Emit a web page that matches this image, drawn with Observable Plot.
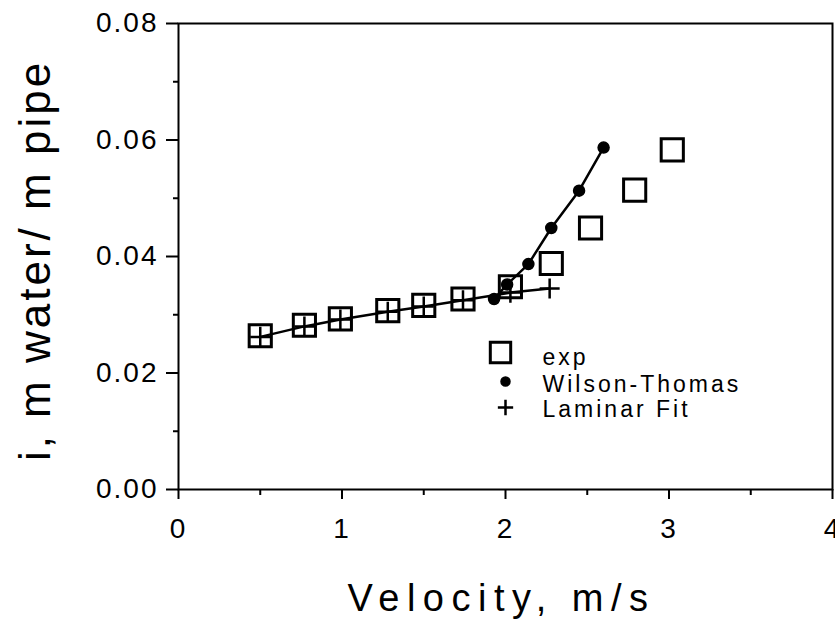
<!DOCTYPE html>
<html>
<head>
<meta charset="utf-8">
<script src="https://cdn.jsdelivr.net/npm/d3@7"></script>
<script src="https://cdn.jsdelivr.net/npm/@observablehq/plot@0.6"></script>
<style>
  html, body { margin: 0; padding: 0; background: #fff; }
  #chart svg { font-family: "Liberation Sans", Arial, sans-serif; }
  g[aria-label="y-axis tick label"] text, g[aria-label="x-axis tick label"] text { letter-spacing: 2px; }
  g[font-size="38"] text { letter-spacing: 7.5px; }
  g[font-size="44"] text { letter-spacing: 3px; }
  g[font-size="23"] text { letter-spacing: 3px; }
</style>
</head>
<body>
<div id="chart"></div>
<script>
// Experimental data (squares)
const expV = [0.50, 0.77, 0.99, 1.28, 1.50, 1.74, 2.03, 2.28, 2.52, 2.79, 3.02];
const expI = [0.0264, 0.0282, 0.0293, 0.0307, 0.0316, 0.0327, 0.0348, 0.0388, 0.0449, 0.0514, 0.0583];
// Wilson-Thomas model (filled dots)
const wtV = [1.93, 2.01, 2.14, 2.28, 2.45, 2.60];
const wtI = [0.0327, 0.0352, 0.0387, 0.0449, 0.0513, 0.0587];
// Laminar fit (plus signs)
const lamV = [0.50, 0.77, 0.99, 1.28, 1.50, 1.74, 2.03, 2.27];
const lamI = [0.0262, 0.0280, 0.0292, 0.0305, 0.0314, 0.0325, 0.0338, 0.0345];
// Ticks
const xTicks = [0, 1, 2, 3, 4];
const xMinor = [0.5, 1.5, 2.5, 3.5];
const yTicks = [0, 0.02, 0.04, 0.06, 0.08];
const yMinor = [0.01, 0.03, 0.05, 0.07];
// Labels
const xTitle = "Velocity, m/s";
const yTitle = "i, m water/ m pipe";
const legendLabels = ["exp", "Wilson-Thomas", "Laminar Fit"];

const exp = expV.map((v, i) => ({v, i: expI[i]}));
const wt = wtV.map((v, i) => ({v, i: wtI[i]}));
const lam = lamV.map((v, i) => ({v, i: lamI[i]}));

const chart = Plot.plot({
  width: 835,
  height: 619,
  marginLeft: 178,
  marginRight: 3,
  marginTop: 23,
  marginBottom: 130,
  x: {domain: [0, 4]},
  y: {domain: [0, 0.08]},
  marks: [
    Plot.frame({stroke: "black", strokeWidth: 2}),
    Plot.axisX(xTicks, {tickSize: 10, tickPadding: 19, fontSize: 28, strokeWidth: 2, label: null, tickFormat: d3.format("d")}),
    Plot.axisX(xMinor, {tickSize: 6, text: null, strokeWidth: 2, label: null}),
    Plot.axisY(yTicks, {tickSize: 12, tickPadding: 8, fontSize: 28, strokeWidth: 2, label: null, tickFormat: d3.format(".2f")}),
    Plot.axisY(yMinor, {tickSize: 5, text: null, strokeWidth: 2, label: null}),
    Plot.line(lam, {x: "v", y: "i", stroke: "black", strokeWidth: 2.5}),
    Plot.line(wt, {x: "v", y: "i", stroke: "black", strokeWidth: 2.5}),
    Plot.dot(exp, {x: "v", y: "i", symbol: "square", r: 12.5, stroke: "black", strokeWidth: 3, fill: "none"}),
    Plot.dot(wt, {x: "v", y: "i", r: 5.5, fill: "black", stroke: "black"}),
    Plot.dot(lam, {x: "v", y: "i", symbol: "plus", r: 6.5, stroke: "black", strokeWidth: 2.5}),
    // Legend
    Plot.dot([legendLabels[0]], {frameAnchor: "top-left", dx: 322, dy: 329, symbol: "square", r: 11.5, stroke: "black", strokeWidth: 3, fill: "none"}),
    Plot.dot([legendLabels[1]], {frameAnchor: "top-left", dx: 327, dy: 358, r: 4.5, fill: "black", stroke: "black"}),
    Plot.dot([legendLabels[2]], {frameAnchor: "top-left", dx: 327, dy: 384, symbol: "plus", r: 5, stroke: "black", strokeWidth: 2.5}),
    Plot.text([legendLabels[0]], {text: d => d, frameAnchor: "top-left", dx: 364, dy: 341, textAnchor: "start", lineAnchor: "bottom", fontSize: 23}),
    Plot.text([legendLabels[1]], {text: d => d, frameAnchor: "top-left", dx: 364, dy: 368, textAnchor: "start", lineAnchor: "bottom", fontSize: 23}),
    Plot.text([legendLabels[2]], {text: d => d, frameAnchor: "top-left", dx: 364, dy: 393, textAnchor: "start", lineAnchor: "bottom", fontSize: 23}),
    // Axis titles
    Plot.text([xTitle], {text: d => d, frameAnchor: "bottom", dx: -4, dy: 121, lineAnchor: "bottom", fontSize: 38}),
    Plot.text([yTitle], {text: d => d, frameAnchor: "left", dx: -129, dy: 4, rotate: -90, textAnchor: "middle", lineAnchor: "bottom", fontSize: 44})
  ]
});
document.getElementById("chart").appendChild(chart);
</script>
</body>
</html>
